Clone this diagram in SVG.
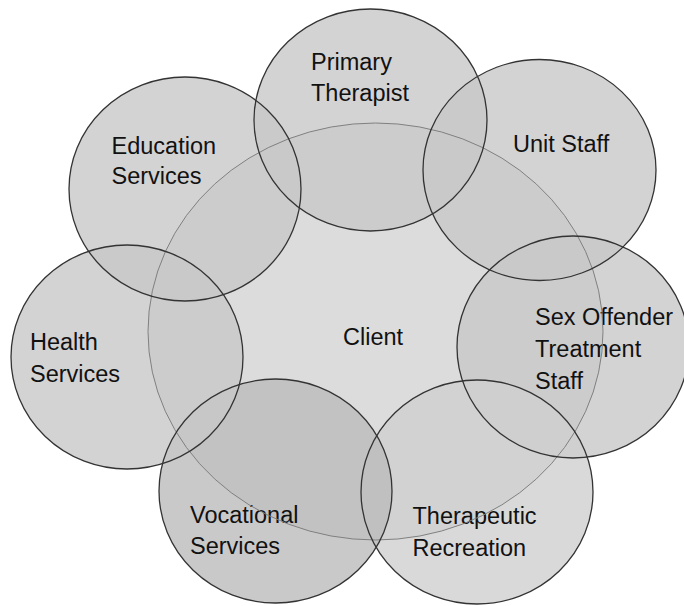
<svg xmlns="http://www.w3.org/2000/svg" width="684" height="606" viewBox="0 0 684 606">
<style>
.fill{fill:#c8c8c8;fill-opacity:0.8;stroke:none}
.voc{fill:#bcbcbc}
.ther{fill:#d0d0d0}
.client{fill:#dcdcdc;stroke:none}
.ol{fill:none;stroke:#333;stroke-width:1.3}
.olc{fill:none;stroke:#808080;stroke-width:1}
text{font-family:"Liberation Sans",Arial,sans-serif;font-size:23.5px;fill:#111}
</style>
<rect width="684" height="606" fill="#fff"/>
<g id="client">
<ellipse class="client" cx="375.5" cy="331.5" rx="227.5" ry="208.5"/>
<text x="343" y="345">Client</text>
</g>
<g id="primary-therapist">
<ellipse class="fill" cx="370.5" cy="120" rx="116.5" ry="111"/>
<text x="311" y="70">Primary</text>
<text x="311" y="100.5">Therapist</text>
</g>
<g id="unit-staff">
<ellipse class="fill" cx="539.5" cy="170" rx="116.5" ry="110.5"/>
<text x="513" y="151.5">Unit Staff</text>
</g>
<g id="sex-offender-treatment-staff">
<ellipse class="fill" cx="573" cy="347" rx="116" ry="111"/>
<text x="535" y="325">Sex Offender</text>
<text x="535" y="357">Treatment</text>
<text x="535" y="388.5">Staff</text>
</g>
<g id="therapeutic-recreation">
<ellipse class="fill ther" cx="477" cy="492" rx="116" ry="112"/>
<text x="412.5" y="524">Therapeutic</text>
<text x="412.5" y="556">Recreation</text>
</g>
<g id="vocational-services">
<ellipse class="fill voc" cx="275.5" cy="491" rx="116.5" ry="112"/>
<text x="190" y="523">Vocational</text>
<text x="190" y="554">Services</text>
</g>
<g id="health-services">
<ellipse class="fill" cx="127" cy="357" rx="116" ry="112"/>
<text x="30" y="350">Health</text>
<text x="30" y="381.5">Services</text>
</g>
<g id="education-services">
<ellipse class="fill" cx="185" cy="189" rx="116" ry="112"/>
<text x="111.5" y="154">Education</text>
<text x="111.5" y="184">Services</text>
</g>
<g id="outlines">
<ellipse class="olc" cx="375.5" cy="331.5" rx="227.5" ry="208.5"/>
<ellipse class="ol" cx="370.5" cy="120" rx="116.5" ry="111"/>
<ellipse class="ol" cx="539.5" cy="170" rx="116.5" ry="110.5"/>
<ellipse class="ol" cx="573" cy="347" rx="116" ry="111"/>
<ellipse class="ol" cx="477" cy="492" rx="116" ry="112"/>
<ellipse class="ol" cx="275.5" cy="491" rx="116.5" ry="112"/>
<ellipse class="ol" cx="127" cy="357" rx="116" ry="112"/>
<ellipse class="ol" cx="185" cy="189" rx="116" ry="112"/>
</g>
</svg>
